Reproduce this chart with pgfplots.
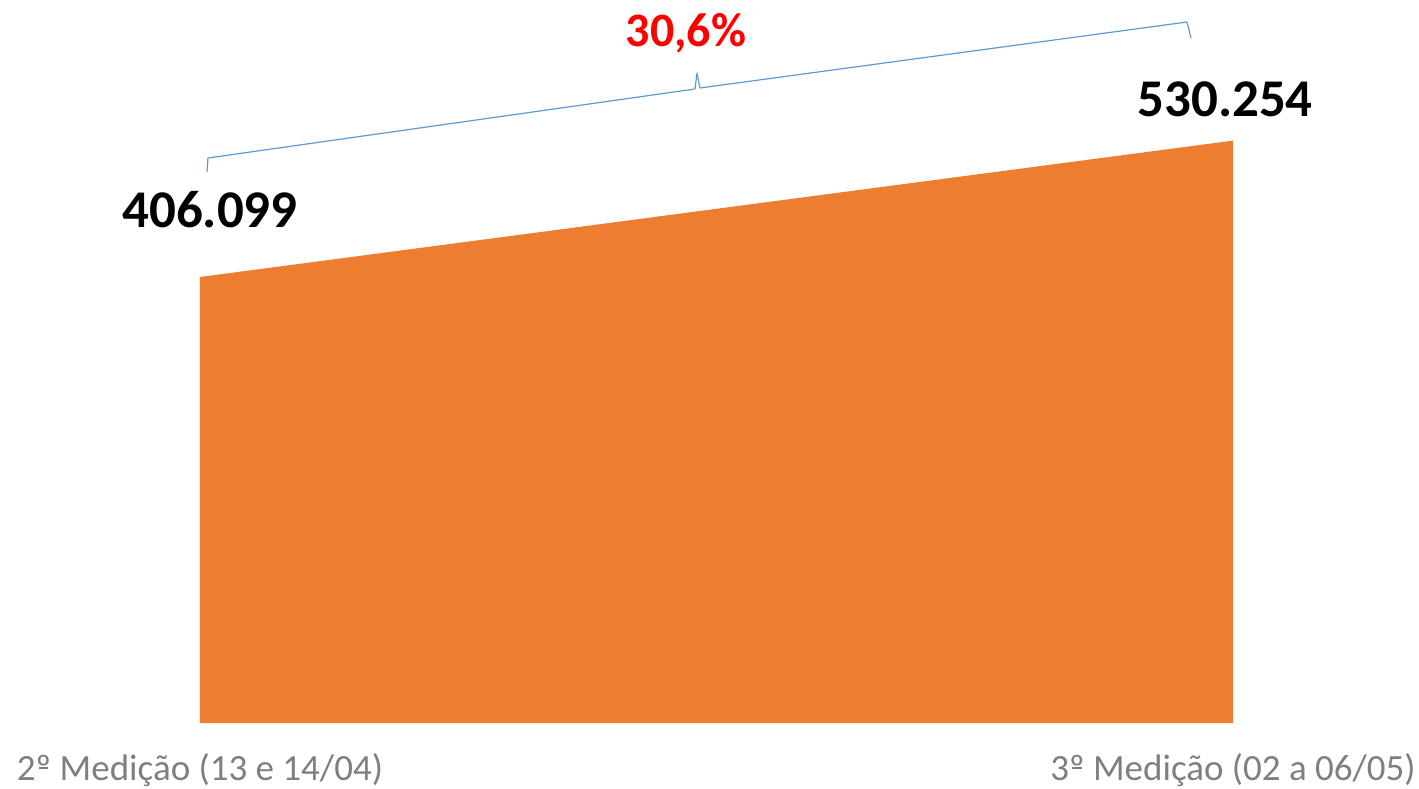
\documentclass[border=0pt]{standalone}
\usepackage{pgfplots}
\pgfplotsset{compat=1.18}
\usepackage{fontspec}
\setmainfont{Carlito}
\definecolor{areaorange}{HTML}{ED7D31}
\definecolor{bracecol}{HTML}{5B9BD5}
\definecolor{labgray}{HTML}{7F7F7F}
\newsavebox{\ordbox}
\newcommand{\ordm}{\sbox{\ordbox}{º}\rlap{\usebox{\ordbox}}\hbox to \wd\ordbox{\hss\raisebox{0.30em}{\rule{0.62\wd\ordbox}{0.055em}}\hss}}
\begin{document}
\begin{tikzpicture}
\path[use as bounding box] (-100pt,-32.5pt) rectangle (609.5pt,361.5pt);
\begin{axis}[
  at={(0,0)}, anchor=south west,
  scale only axis,
  width=516.5pt, height=361.5pt,
  xmin=0, xmax=1, ymin=0, ymax=658300,
  axis line style={draw=none},
  tick style={draw=none},
  ytick=\empty,
  xtick={0,1},
  xticklabels={2\ordm{} Medição (13 e 14/04), 3\ordm{} Medição (02 a 06/05)},
  xticklabel style={font=\fontsize{18.5}{20}\selectfont, text=labgray, anchor=base, inner sep=0pt, yshift=-28.5pt},
  clip=false,
]
\addplot[fill=areaorange, draw=none] coordinates {(0,406099) (1,530254)} \closedcycle;
\node[anchor=base, font=\fontsize{26.5}{30}\selectfont\bfseries] at (axis cs:0.0097,450700) {406.099};
\node[anchor=base, font=\fontsize{26.5}{30}\selectfont\bfseries] at (axis cs:0.9923,551800) {530.254};
\node[anchor=base, font=\fontsize{24}{28}\selectfont\bfseries, text=red] at (axis cs:0.4705,616400) {30,6\%};
\draw[bracecol, line width=0.6pt, line join=round]
  (axis cs:0.0068,501700) -- (axis cs:0.0077,514433) -- (axis cs:0.4792,577257)
  -- (axis cs:0.4811,591825) -- (axis cs:0.4840,578168) -- (axis cs:0.9555,638261)
  -- (axis cs:0.9593,623693);
\end{axis}
\end{tikzpicture}
\end{document}
